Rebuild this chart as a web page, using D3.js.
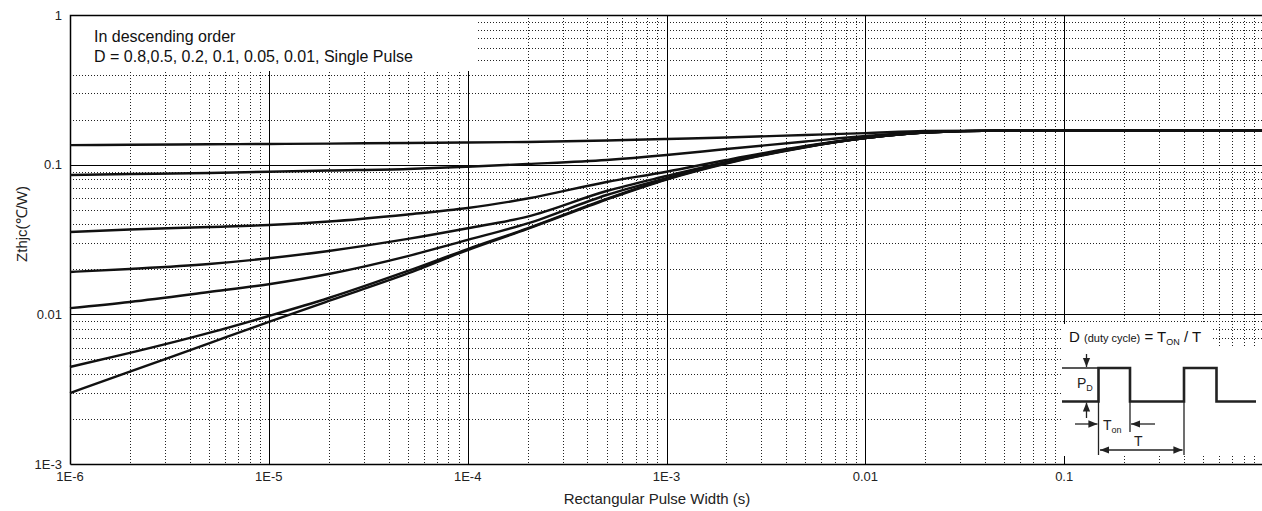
<!DOCTYPE html>
<html>
<head>
<meta charset="utf-8">
<script src="https://cdn.jsdelivr.net/npm/d3@7"></script>
<style>
  html, body { margin: 0; padding: 0; background: #fff; }
  svg { display: block; font-family: "Liberation Sans", Arial, sans-serif; }
</style>
</head>
<body>
<svg id="chart" width="1262" height="511"></svg>
<script>
// Rectangular pulse width samples (s)
const pulseWidth = [1e-6, 2e-6, 5e-6, 1e-5, 2e-5, 5e-5, 1e-4, 2e-4, 5e-4, 1e-3, 2e-3, 5e-3, 1e-2, 2e-2, 5e-2, 1e-1, 1];

// Transient thermal impedance Zthjc (°C/W) for each duty cycle
const zD08 = [0.135, 0.1357, 0.137, 0.1374, 0.1383, 0.1396, 0.1407, 0.1418, 0.145, 0.1484, 0.152, 0.158, 0.1625, 0.168, 0.169, 0.169, 0.169];
const zD05 = [0.0853, 0.0866, 0.088, 0.0897, 0.0914, 0.0936, 0.0969, 0.101, 0.1075, 0.116, 0.1272, 0.1428, 0.1554, 0.1653, 0.1688, 0.1692, 0.1692];
const zD02 = [0.0355, 0.0369, 0.0383, 0.0395, 0.0417, 0.0465, 0.0513, 0.0594, 0.0766, 0.0897, 0.1075, 0.1333, 0.1508, 0.164, 0.1688, 0.1692, 0.1692];
const zD01 = [0.0192, 0.0201, 0.0217, 0.0237, 0.0265, 0.0319, 0.0376, 0.045, 0.0667, 0.084, 0.1042, 0.1322, 0.1508, 0.164, 0.1688, 0.1692, 0.1692];
const zD005 = [0.011, 0.0121, 0.0141, 0.0159, 0.0186, 0.0245, 0.0314, 0.0405, 0.0627, 0.0814, 0.1034, 0.1318, 0.1508, 0.164, 0.1688, 0.1692, 0.1692];
const zD001 = [0.00445, 0.00552, 0.00751, 0.00975, 0.01286, 0.0195, 0.0273, 0.0375, 0.059, 0.0802, 0.1026, 0.1312, 0.1508, 0.164, 0.1688, 0.1692, 0.1692];
const zSingle = [0.00298, 0.00414, 0.0064, 0.00889, 0.01228, 0.01875, 0.0269, 0.0372, 0.0585, 0.0796, 0.1018, 0.1308, 0.1503, 0.164, 0.1688, 0.1692, 0.1692];

const seriesList = [zD08, zD05, zD02, zD01, zD005, zD001, zSingle];

// Axis ticks and labels
const xMajorTicks = [1e-6, 1e-5, 1e-4, 1e-3, 1e-2, 1e-1];
const xTickLabels = ["1E-6", "1E-5", "1E-4", "1E-3", "0.01", "0.1"];
const yMajorTicks = [1e-3, 1e-2, 1e-1, 1];
const yTickLabels = ["1E-3", "0.01", "0.1", "1"];

const legendLines = ["In descending order", "D = 0.8,0.5, 0.2, 0.1, 0.05, 0.01, Single Pulse"];

const svg = d3.select("#chart");
const plotL = 70, plotR = 1263, plotT = 15, plotB = 464;

const x = d3.scaleLog().domain([1e-6, 1]).range([plotL, plotR]);
const y = d3.scaleLog().domain([1e-3, 1]).range([plotB, plotT]);

const crisp = v => Math.round(v) + 0.5;

// minor grid values (2..9 of each decade)
const xMinor = [];
for (let e = -6; e < 0; e++) for (let m = 2; m <= 9; m++) xMinor.push(m * Math.pow(10, e));
const yMinor = [];
for (let e = -3; e < 0; e++) for (let m = 2; m <= 9; m++) yMinor.push(m * Math.pow(10, e));

const grid = svg.append("g");
grid.selectAll("line.xminor").data(xMinor).join("line")
  .attr("x1", d => crisp(x(d))).attr("x2", d => crisp(x(d)))
  .attr("y1", plotT).attr("y2", plotB)
  .attr("stroke", "#222").attr("stroke-width", 1).attr("stroke-dasharray", "1,2");
grid.selectAll("line.yminor").data(yMinor).join("line")
  .attr("y1", d => crisp(y(d))).attr("y2", d => crisp(y(d)))
  .attr("x1", plotL).attr("x2", plotR)
  .attr("stroke", "#222").attr("stroke-width", 1).attr("stroke-dasharray", "1,2");

// major grid
grid.selectAll("line.xmajor").data(xMajorTicks.slice(1)).join("line")
  .attr("x1", d => crisp(x(d))).attr("x2", d => crisp(x(d)))
  .attr("y1", plotT).attr("y2", plotB)
  .attr("stroke", "#000").attr("stroke-width", 1);
grid.selectAll("line.ymajor").data(yMajorTicks.slice(1, -1)).join("line")
  .attr("y1", d => crisp(y(d))).attr("y2", d => crisp(y(d)))
  .attr("x1", plotL).attr("x2", plotR)
  .attr("stroke", "#000").attr("stroke-width", 1);

// legend note box
svg.append("rect").attr("x", plotL + 1).attr("y", plotT + 1)
  .attr("width", 478 - plotL - 1).attr("height", 71 - plotT - 1).attr("fill", "#fff");
svg.selectAll("text.legend").data(legendLines).join("text")
  .attr("x", 94).attr("y", (d, i) => 42 + i * 20)
  .attr("font-size", 16).attr("fill", "#111").text(d => d);

// frame
svg.append("path")
  .attr("d", `M${crisp(plotL)},${crisp(plotB)}V${crisp(plotT)}H${plotR}M${crisp(plotL)},${crisp(plotB)}H${plotR}`)
  .attr("fill", "none").attr("stroke", "#000").attr("stroke-width", 1.5);

// curves
const line = d3.line()
  .x((d, i) => x(pulseWidth[i]))
  .y(d => y(d))
  .curve(d3.curveMonotoneX);
svg.append("g").selectAll("path").data(seriesList).join("path")
  .attr("d", line)
  .attr("fill", "none").attr("stroke", "#111").attr("stroke-width", 2.4);

// tick labels
svg.selectAll("text.xt").data(xMajorTicks).join("text")
  .attr("x", d => x(d)).attr("y", 481)
  .attr("text-anchor", "middle").attr("font-size", 13).attr("fill", "#222")
  .text((d, i) => xTickLabels[i]);
svg.selectAll("text.yt").data(yMajorTicks).join("text")
  .attr("x", 62).attr("y", d => y(d) + 4.5)
  .attr("text-anchor", "end").attr("font-size", 13).attr("fill", "#222")
  .text((d, i) => yTickLabels[i]);

// axis titles
svg.append("text").attr("x", 657).attr("y", 504)
  .attr("text-anchor", "middle").attr("font-size", 15).attr("fill", "#222")
  .text("Rectangular Pulse Width (s)");
svg.append("text").attr("transform", "translate(27,224) rotate(-90)")
  .attr("text-anchor", "middle").attr("font-size", 15).attr("fill", "#222")
  .text("Zthjc(℃/W)");

// duty-cycle inset
const inset = svg.append("g");
inset.append("rect").attr("x", 1061).attr("y", 324).attr("width", 151).attr("height", 24).attr("fill", "#fff");
inset.append("rect").attr("x", 1061).attr("y", 347).attr("width", 201).attr("height", 109).attr("fill", "#fff");

const eq = inset.append("text").attr("x", 1069).attr("y", 342).attr("font-size", 15).attr("fill", "#111");
eq.append("tspan").text("D ");
eq.append("tspan").attr("font-size", 11).text("(duty cycle)");
eq.append("tspan").text(" = T");
eq.append("tspan").attr("font-size", 9).attr("dy", 3).text("ON");
eq.append("tspan").attr("dy", -3).text(" / T");

const ink = "#222";
const yLow = 401.5, yHigh = 368;
inset.append("path")
  .attr("d", `M1062,${yLow}H1098.5V${yHigh}H1130V${yLow}H1184V${yHigh}H1216.5V${yLow}H1256`)
  .attr("fill", "none").attr("stroke", ink).attr("stroke-width", 2.6);
// reference lines
inset.append("path")
  .attr("d", `M1062,${yHigh}H1098 M1098.5,${yLow}V455 M1130,${yLow}V432 M1184,${yLow}V455`)
  .attr("fill", "none").attr("stroke", ink).attr("stroke-width", 1.3);

const defs = svg.append("defs");
defs.append("marker").attr("id", "ah").attr("viewBox", "0 0 10 10")
  .attr("refX", 10).attr("refY", 5).attr("markerWidth", 7).attr("markerHeight", 7)
  .attr("orient", "auto-start-reverse")
  .append("path").attr("d", "M0,1L10,5L0,9Z").attr("fill", ink);

const arrows = [
  [1086.5, 354, 1086.5, 367],
  [1086.5, 418, 1086.5, 402.5],
  [1075, 424, 1097.5, 424],
  [1155, 424, 1131, 424]
];
inset.selectAll("line.arrow").data(arrows).join("line")
  .attr("x1", d => d[0]).attr("y1", d => d[1]).attr("x2", d => d[2]).attr("y2", d => d[3])
  .attr("stroke", ink).attr("stroke-width", 1.3).attr("marker-end", "url(#ah)");
inset.append("line").attr("x1", 1100).attr("y1", 450).attr("x2", 1182.5).attr("y2", 450)
  .attr("stroke", ink).attr("stroke-width", 1.3)
  .attr("marker-end", "url(#ah)").attr("marker-start", "url(#ah)");

const pd = inset.append("text").attr("x", 1077).attr("y", 388).attr("font-size", 14).attr("fill", ink);
pd.append("tspan").text("P");
pd.append("tspan").attr("font-size", 9).attr("dy", 3).text("D");
const ton = inset.append("text").attr("x", 1103).attr("y", 430).attr("font-size", 14).attr("fill", ink);
ton.append("tspan").text("T");
ton.append("tspan").attr("font-size", 9).attr("dy", 3).text("on");
inset.append("text").attr("x", 1134).attr("y", 446).attr("font-size", 14).attr("fill", ink).text("T");
</script>
</body>
</html>
